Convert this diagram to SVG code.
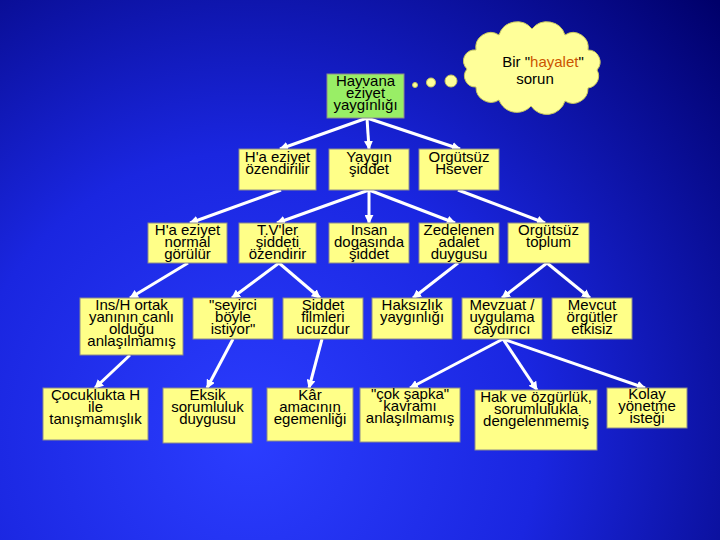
<svg xmlns="http://www.w3.org/2000/svg" width="720" height="540" viewBox="0 0 720 540">
<defs>
<radialGradient id="bg" cx="250" cy="440" r="640" gradientUnits="userSpaceOnUse">
<stop offset="0" stop-color="#2b3dff"/>
<stop offset="0.45" stop-color="#1a26e0"/>
<stop offset="1" stop-color="#00006a"/>
</radialGradient>
<marker id="ah" viewBox="0 0 10 10" refX="9" refY="5" markerWidth="9" markerHeight="9" markerUnits="userSpaceOnUse" orient="auto">
<path d="M0,0 L10,5 L0,10 z" fill="#ffffff"/>
</marker>
<style>
.box{fill:#ffff88;stroke:#8c8c8c;stroke-width:1}
.root{fill:#99ee66;stroke:#8c8c8c;stroke-width:1}
.t{font-family:"Liberation Sans",Arial,sans-serif;font-size:15px;fill:#000;text-anchor:middle}
.c line{stroke:#ffffff;stroke-width:3;marker-end:url(#ah)}
.cloud{fill:#ffff99;stroke:#c8c860;stroke-width:1}
</style>
</defs>
<rect width="720" height="540" fill="url(#bg)"/>

<g id="cloud">
<path class="cloud" d="M597,70 A12,12 0 0 1 588,88 A15,15 0 0 1 565,101 A19,19 0 0 1 531,106 A19,19 0 0 1 499,100 A15,15 0 0 1 476,87 A11,11 0 0 1 467,69 A11,11 0 0 1 476,50 A15,15 0 0 1 499,35 A19,19 0 0 1 532,29 A19,19 0 0 1 565,35 A15,15 0 0 1 588,50 A12,12 0 0 1 597,70 z"/>
<circle class="cloud" cx="451" cy="81" r="6"/>
<circle class="cloud" cx="431" cy="82.5" r="4.5"/>
<circle class="cloud" cx="415" cy="85" r="2.5"/>
<text class="t" x="543" y="67">Bir "<tspan fill="#cc5500">hayalet</tspan>"</text>
<text class="t" x="535" y="84">sorun</text>
</g>

<g class="c" id="connectors">
<line x1="367" y1="118" x2="280" y2="149"/>
<line x1="367" y1="118" x2="369" y2="149"/>
<line x1="367" y1="118" x2="460" y2="149"/>
<line x1="281" y1="190" x2="190" y2="223"/>
<line x1="369" y1="190" x2="277" y2="223"/>
<line x1="369" y1="190" x2="369" y2="223"/>
<line x1="369" y1="190" x2="455" y2="223"/>
<line x1="458" y1="190" x2="545" y2="223"/>
<line x1="188" y1="263" x2="130" y2="298"/>
<line x1="279" y1="263" x2="232" y2="298"/>
<line x1="279" y1="263" x2="320" y2="298"/>
<line x1="458" y1="263" x2="413" y2="298"/>
<line x1="547" y1="263" x2="502" y2="298"/>
<line x1="547" y1="263" x2="590" y2="298"/>
<line x1="130" y1="355" x2="95" y2="388"/>
<line x1="233" y1="339" x2="207" y2="388"/>
<line x1="322" y1="339" x2="309" y2="388"/>
<line x1="503" y1="339" x2="410" y2="388"/>
<line x1="503" y1="339" x2="537" y2="390"/>
<line x1="503" y1="339" x2="645" y2="388"/>
</g>

<g id="n0"><rect class="root" x="327" y="74" width="77" height="44"/>
<text class="t" x="365.5" y="86">Hayvana<tspan x="365.5" dy="12">eziyet</tspan><tspan x="365.5" dy="12">yaygınlığı</tspan></text></g>

<g id="n1"><rect class="box" x="239" y="149" width="77" height="41"/>
<text class="t" x="277.5" y="162">H'a eziyet<tspan x="277.5" dy="12">özendirilir</tspan></text></g>
<g id="n2"><rect class="box" x="329" y="149" width="80" height="41"/>
<text class="t" x="369" y="162">Yaygın<tspan x="369" dy="12">şiddet</tspan></text></g>
<g id="n3"><rect class="box" x="419" y="149" width="80" height="41"/>
<text class="t" x="459" y="162">Orgütsüz<tspan x="459" dy="12">Hsever</tspan></text></g>

<g id="n4"><rect class="box" x="148" y="223" width="79" height="40"/>
<text class="t" x="187.5" y="235">H'a eziyet<tspan x="187.5" dy="12">normal</tspan><tspan x="187.5" dy="12">görülür</tspan></text></g>
<g id="n5"><rect class="box" x="239" y="223" width="77" height="40"/>
<text class="t" x="277.5" y="235">T.V'ler<tspan x="277.5" dy="12">şiddeti</tspan><tspan x="277.5" dy="12">özendirir</tspan></text></g>
<g id="n6"><rect class="box" x="329" y="223" width="80" height="40"/>
<text class="t" x="369" y="235">Insan<tspan x="369" dy="12">dogasında</tspan><tspan x="369" dy="12">şiddet</tspan></text></g>
<g id="n7"><rect class="box" x="419" y="223" width="80" height="40"/>
<text class="t" x="459" y="235">Zedelenen<tspan x="459" dy="12">adalet</tspan><tspan x="459" dy="12">duygusu</tspan></text></g>
<g id="n8"><rect class="box" x="508" y="223" width="81" height="40"/>
<text class="t" x="548.5" y="235">Orgütsüz<tspan x="548.5" dy="12">toplum</tspan></text></g>

<g id="n9"><rect class="box" x="80" y="298" width="103" height="57"/>
<text class="t" x="131.5" y="310">Ins/H ortak<tspan x="131.5" dy="12">yanının canlı</tspan><tspan x="131.5" dy="12">olduğu</tspan><tspan x="131.5" dy="12">anlaşılmamış</tspan></text></g>
<g id="n10"><rect class="box" x="193" y="298" width="80" height="41"/>
<text class="t" x="233" y="310">"seyirci<tspan x="233" dy="12">böyle</tspan><tspan x="233" dy="12">istiyor"</tspan></text></g>
<g id="n11"><rect class="box" x="283" y="298" width="80" height="41"/>
<text class="t" x="323" y="310">Şiddet<tspan x="323" dy="12">filmleri</tspan><tspan x="323" dy="12">ucuzdur</tspan></text></g>
<g id="n12"><rect class="box" x="372" y="298" width="80" height="41"/>
<text class="t" x="412" y="310">Haksızlık<tspan x="412" dy="12">yaygınlığı</tspan></text></g>
<g id="n13"><rect class="box" x="462" y="298" width="80" height="41"/>
<text class="t" x="502" y="310">Mevzuat /<tspan x="502" dy="12">uygulama</tspan><tspan x="502" dy="12">caydırıcı</tspan></text></g>
<g id="n14"><rect class="box" x="552" y="298" width="80" height="41"/>
<text class="t" x="592" y="310">Mevcut<tspan x="592" dy="12">örgütler</tspan><tspan x="592" dy="12">etkisiz</tspan></text></g>

<g id="n15"><rect class="box" x="43" y="388" width="105" height="52"/>
<text class="t" x="95.5" y="400">Çocuklukta H<tspan x="95.5" dy="12">ile</tspan><tspan x="95.5" dy="12">tanışmamışlık</tspan></text></g>
<g id="n16"><rect class="box" x="163" y="388" width="89" height="55"/>
<text class="t" x="207.5" y="400">Eksik<tspan x="207.5" dy="12">sorumluluk</tspan><tspan x="207.5" dy="12">duygusu</tspan></text></g>
<g id="n17"><rect class="box" x="267" y="388" width="86" height="53"/>
<text class="t" x="310" y="400">Kâr<tspan x="310" dy="12">amacının</tspan><tspan x="310" dy="12">egemenliği</tspan></text></g>
<g id="n18"><rect class="box" x="360" y="388" width="100" height="54"/>
<text class="t" x="410" y="399">"çok şapka"<tspan x="410" dy="12">kavramı</tspan><tspan x="410" dy="12">anlaşılmamış</tspan></text></g>
<g id="n19"><rect class="box" x="475" y="390" width="122" height="60"/>
<text class="t" x="536" y="402">Hak ve özgürlük,<tspan x="536" dy="12">sorumlulukla</tspan><tspan x="536" dy="12">dengelenmemiş</tspan></text></g>
<g id="n20"><rect class="box" x="607" y="388" width="80" height="40"/>
<text class="t" x="647" y="399">Kolay<tspan x="647" dy="12">yönetme</tspan><tspan x="647" dy="12">isteği</tspan></text></g>
</svg>
